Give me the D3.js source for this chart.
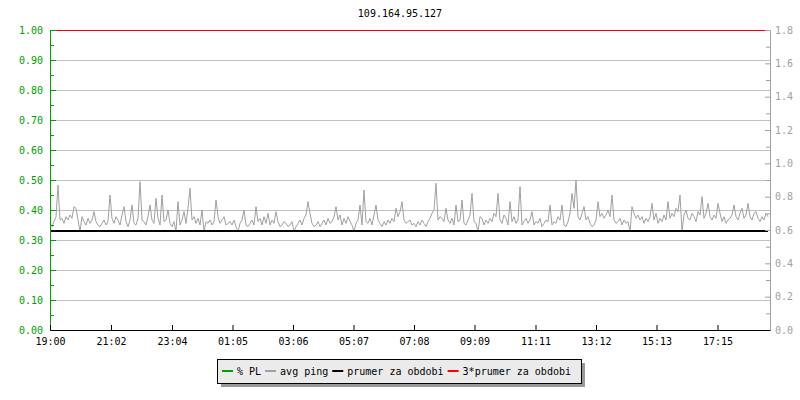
<!DOCTYPE html>
<html>
<head>
<meta charset="utf-8">
<script src="https://cdn.jsdelivr.net/npm/d3@7"></script>
<style>
  body { margin: 0; background: #fff; }
  text { font-family: "DejaVu Sans Mono", monospace; font-size: 10px; }
</style>
</head>
<body>
<svg width="800" height="400"></svg>
<script>
var title = "109.164.95.127";

// x axis labels (time of day, start 19:00)
var timeLabels = ["19:00", "21:02", "23:04", "01:05", "03:06", "05:07",
                  "07:08", "09:09", "11:11", "13:12", "15:13", "17:15"];

// avg ping (ms, right scale), one sample every 4 minutes, split in 4 blocks of 6h
var pingA = [0.64,0.62,0.65,0.68,0.87,0.66,0.67,0.64,0.68,0.66,
             0.69,0.67,0.74,0.73,0.66,0.59,0.68,0.65,0.63,0.67,
             0.64,0.66,0.71,0.65,0.63,0.62,0.64,0.66,0.63,0.65,
             0.81,0.67,0.64,0.68,0.66,0.63,0.69,0.74,0.65,0.62,
             0.66,0.75,0.64,0.63,0.67,0.89,0.66,0.65,0.63,0.68,
             0.75,0.66,0.64,0.79,0.67,0.63,0.81,0.65,0.66,0.72,
             0.64,0.62,0.65,0.59,0.77,0.63,0.66,0.71,0.64,0.73,
             0.85,0.66,0.68,0.64,0.67,0.63,0.72,0.59,0.65,0.64,
             0.66,0.63,0.65,0.78,0.68,0.64,0.66,0.68,0.63,0.64];
var pingB = [0.65,0.63,0.66,0.62,0.59,0.64,0.66,0.72,0.63,0.62,
             0.64,0.66,0.63,0.74,0.65,0.67,0.63,0.68,0.64,0.70,
             0.63,0.66,0.64,0.71,0.65,0.62,0.63,0.65,0.64,0.62,
             0.63,0.65,0.59,0.62,0.64,0.66,0.63,0.67,0.69,0.77,
             0.70,0.64,0.62,0.63,0.65,0.62,0.64,0.66,0.63,0.67,
             0.64,0.65,0.68,0.74,0.66,0.69,0.63,0.67,0.64,0.68,
             0.65,0.63,0.59,0.64,0.66,0.75,0.63,0.84,0.65,0.64,
             0.67,0.63,0.69,0.75,0.66,0.64,0.62,0.65,0.63,0.66,
             0.64,0.67,0.65,0.73,0.68,0.71,0.77,0.66,0.64,0.65];
var pingC = [0.66,0.63,0.64,0.62,0.65,0.63,0.66,0.64,0.62,0.65,
             0.67,0.70,0.72,0.88,0.66,0.68,0.67,0.65,0.73,0.66,
             0.64,0.67,0.63,0.75,0.65,0.66,0.78,0.64,0.63,0.66,
             0.69,0.82,0.65,0.64,0.59,0.68,0.67,0.63,0.66,0.64,
             0.67,0.65,0.70,0.68,0.82,0.66,0.64,0.69,0.67,0.63,
             0.77,0.65,0.68,0.64,0.66,0.86,0.63,0.65,0.67,0.64,
             0.66,0.71,0.63,0.65,0.64,0.67,0.62,0.64,0.66,0.65,
             0.75,0.63,0.65,0.64,0.68,0.66,0.75,0.63,0.62,0.65,
             0.70,0.82,0.73,0.90,0.68,0.66,0.70,0.74,0.66,0.68];
var pingD = [0.64,0.62,0.63,0.66,0.77,0.68,0.70,0.67,0.69,0.72,
             0.68,0.81,0.66,0.64,0.65,0.67,0.63,0.66,0.64,0.65,
             0.59,0.74,0.70,0.67,0.69,0.66,0.68,0.64,0.67,0.65,
             0.68,0.76,0.66,0.70,0.64,0.67,0.65,0.69,0.66,0.77,
             0.67,0.70,0.68,0.73,0.71,0.81,0.59,0.69,0.72,0.67,
             0.66,0.70,0.68,0.65,0.71,0.69,0.80,0.67,0.70,0.76,
             0.68,0.66,0.69,0.67,0.76,0.70,0.65,0.68,0.64,0.66,
             0.67,0.69,0.75,0.68,0.66,0.70,0.73,0.67,0.69,0.76,
             0.68,0.66,0.70,0.71,0.67,0.65,0.68,0.66,0.70,0.68];

// packet loss, one value per 6 hours (all zero)
var plLoss = [0, 0, 0, 0, 0];

var avgPing = 0.6;   // prumer za obdobi
var legendNames = ["% PL", "avg ping", "prumer za obdobi", "3*prumer za obdobi"];
var legendColors = ["#00a000", "#a0a0a0", "#000000", "#ff0000"];

var svg = d3.select("svg");
// note: "top" is taken by window.top, so plot* names
var plotLeft = 50, plotRight = 770, plotTop = 30, plotBottom = 330;

var start = new Date(2020, 0, 1, 19, 0);
var minute = 60000;

var x = d3.scaleTime()
    .domain([start, new Date(+start + 24 * 60 * minute)])
    .range([plotLeft, plotRight]);
var yL = d3.scaleLinear().domain([0, 1]).range([plotBottom, plotTop]);
var yR = d3.scaleLinear().domain([0, 1.8]).range([plotBottom, plotTop]);

var ping = pingA.concat(pingB, pingC, pingD).map(function(v, i) {
  return { t: new Date(+start + i * 4 * minute), v: v };
});
var tFirst = ping[0].t, tLast = ping[ping.length - 1].t;

// tick dates from the labels (after midnight -> next day)
var tickDates = timeLabels.map(function(s) {
  var p = s.split(":"), h = +p[0], m = +p[1];
  var d = new Date(2020, 0, 1, h, m);
  if (h < 19) d = new Date(+d + 24 * 60 * minute);
  return d;
});

svg.append("rect").attr("width", 800).attr("height", 400).attr("fill", "#fff");

// title
svg.append("text")
    .attr("x", 400).attr("y", 17)
    .attr("text-anchor", "middle")
    .attr("fill", "#000")
    .text(title);

// grid
var majorL = d3.range(1, 10).map(function(i) { return i / 10; });
svg.append("g").selectAll("line")
  .data(majorL)
  .enter().append("line")
    .attr("x1", plotLeft).attr("x2", plotRight)
    .attr("y1", function(d) { return Math.round(yL(d)) + 0.5; })
    .attr("y2", function(d) { return Math.round(yL(d)) + 0.5; })
    .attr("stroke", "#c0c0c0");

// packet loss (green), hidden under the x axis like in the original
var plLine = d3.line()
    .x(function(d, i) { return x(new Date(+start + i * 6 * 60 * minute)); })
    .y(function(d) { return Math.round(yL(d)) + 0.5; });
svg.append("path")
    .datum(plLoss)
    .attr("fill", "none")
    .attr("stroke", legendColors[0])
    .attr("d", plLine);

// avg ping (gray)
var pingLine = d3.line()
    .x(function(d) { return x(d.t); })
    .y(function(d) { return yR(d.v); });
svg.append("path")
    .datum(ping)
    .attr("fill", "none")
    .attr("stroke", legendColors[1])
    .attr("stroke-width", 1)
    .attr("d", pingLine);

// average and 3*average
var yAvg = Math.round(yR(avgPing)) + 1;
svg.append("line")
    .attr("x1", x(tFirst)).attr("x2", x(tLast))
    .attr("y1", yAvg).attr("y2", yAvg)
    .attr("stroke", legendColors[2]).attr("stroke-width", 2);
var y3Avg = Math.round(yR(3 * avgPing)) + 0.5;
svg.append("line")
    .attr("x1", x(tFirst)).attr("x2", x(tLast) - 3)
    .attr("y1", y3Avg).attr("y2", y3Avg)
    .attr("stroke", legendColors[3]).attr("stroke-width", 1);

// left axis (green); d3 adds the half pixel offset itself
var gL = svg.append("g")
    .attr("transform", "translate(" + plotLeft + ",0)")
    .call(d3.axisLeft(yL).tickValues(d3.range(0, 11).map(function(i) { return i / 10; }))
      .tickFormat(d3.format(".2f")).tickSizeInner(-6).tickSizeOuter(0).tickPadding(7));
gL.select(".domain").attr("stroke", "#00a000");
gL.selectAll(".tick line").attr("stroke", "#00a000");
gL.selectAll(".tick text").attr("fill", "#00a000").style("font-size", "10px");
svg.append("g")
    .attr("transform", "translate(" + plotLeft + ",0)")
    .call(d3.axisLeft(yL).tickValues(d3.range(0, 10).map(function(i) { return i / 10 + 0.05; }))
      .tickFormat("").tickSizeInner(-4).tickSizeOuter(0))
    .call(function(g) { g.select(".domain").remove(); })
    .selectAll(".tick line").attr("stroke", "#00a000");

// right axis (gray)
var gR = svg.append("g")
    .attr("transform", "translate(" + plotRight + ",0)")
    .call(d3.axisRight(yR).tickValues(d3.range(0, 10).map(function(i) { return i * 0.2; }))
      .tickFormat(d3.format(".1f")).tickSizeInner(-5).tickSizeOuter(0).tickPadding(5));
gR.select(".domain").attr("stroke", "#a0a0a0");
gR.selectAll(".tick line").attr("stroke", "#a0a0a0");
gR.selectAll(".tick text").attr("fill", "#a0a0a0").style("font-size", "10px");
svg.append("g")
    .attr("transform", "translate(" + plotRight + ",0)")
    .call(d3.axisRight(yR).tickValues(d3.range(0, 9).map(function(i) { return i * 0.2 + 0.1; }))
      .tickFormat("").tickSizeInner(-4).tickSizeOuter(0))
    .call(function(g) { g.select(".domain").remove(); })
    .selectAll(".tick line").attr("stroke", "#a0a0a0");

// x axis (black)
var gX = svg.append("g")
    .attr("transform", "translate(0," + plotBottom + ")")
    .call(d3.axisBottom(x).tickValues(tickDates)
      .tickFormat(d3.timeFormat("%H:%M")).tickSizeInner(-5).tickSizeOuter(0).tickPadding(8));
gX.select(".domain").attr("stroke", "#000");
gX.selectAll(".tick text").attr("fill", "#000").style("font-size", "10px");

// legend
var lg = svg.append("g");
var lx = 217, ly = 359, lh = 24;
var shadow = lg.append("rect").attr("fill", "#999");
var box = lg.append("rect").attr("fill", "#ebebeb").attr("stroke", "#000");
var cx = lx + 5;
legendNames.forEach(function(name, i) {
  lg.append("line")
      .attr("x1", cx).attr("x2", cx + 11)
      .attr("y1", ly + 12).attr("y2", ly + 12)
      .attr("stroke", legendColors[i]).attr("stroke-width", 2);
  var t = lg.append("text")
      .attr("x", cx + 15).attr("y", ly + 16)
      .attr("fill", "#000")
      .text(name);
  cx = cx + 15 + t.node().getComputedTextLength() + 4;
});
var lw = cx - lx + 6;
box.attr("x", lx + 0.5).attr("y", ly + 0.5).attr("width", lw).attr("height", lh);
shadow.attr("x", lx + 4).attr("y", ly + 4).attr("width", lw).attr("height", lh);
</script>
</body>
</html>
